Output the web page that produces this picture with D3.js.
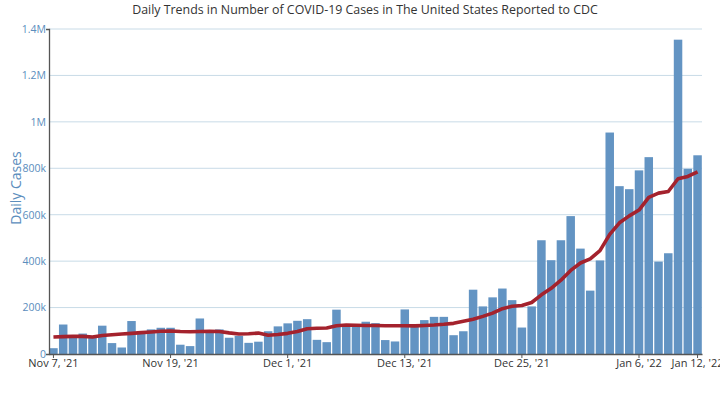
<!DOCTYPE html>
<html>
<head>
<meta charset="utf-8">
<script src="https://cdn.jsdelivr.net/npm/d3@7"></script>
<style>
  body { margin: 0; background: #fff; font-family: 'Open Sans', sans-serif; }
  svg text { font-family: 'Open Sans', sans-serif; }
</style>
</head>
<body>
<svg id="chart" width="720" height="395"></svg>
<script>
// Data
const startDay = new Date(2021, 10, 7);
const days = d3.timeDay.range(startDay, new Date(2022, 0, 13));

const dailyCases = [
  25000, 127000, 80000, 88000, 76000, 122000, 47000, 28000, 142000, 97000,
  106000, 113000, 113000, 40000, 34000, 153000, 97000, 106000, 70000, 78000,
  48000, 53000, 98000, 119000, 132000, 143000, 150000, 61000, 51000, 191000,
  124000, 124000, 139000, 133000, 60000, 54000, 192000, 120000, 146000, 160000,
  160000, 81000, 98000, 277000, 205000, 244000, 282000, 232000, 114000, 205000,
  490000, 404000, 490000, 594000, 454000, 273000, 403000, 954000, 723000, 710000,
  791000, 848000, 398000, 434000, 1354000, 798000, 856000
];

const sevenDayAvg = [
  73000, 75000, 76000, 76000, 73000, 80000, 83000, 86000, 89000, 92000,
  95000, 98000, 99000, 97000, 96000, 97000, 98000, 97000, 91000, 86000,
  87000, 90000, 81000, 84000, 89000, 97000, 109000, 111000, 112000, 122000,
  125000, 124000, 123000, 123000, 122000, 122000, 122000, 121000, 123000, 125000,
  128000, 132000, 141000, 150000, 162000, 176000, 195000, 206000, 209000, 222000,
  255000, 283000, 318000, 360000, 392000, 410000, 445000, 515000, 565000, 595000,
  620000, 675000, 693000, 700000, 755000, 765000, 785000
];

const xTickDays = [0, 12, 24, 36, 48, 60, 66];
const xTickLabels = ["Nov 7, '21", "Nov 19, '21", "Dec 1, '21", "Dec 13, '21", "Dec 25, '21", "Jan 6, '22", "Jan 12, '22"];
const yTicks = [0, 200000, 400000, 600000, 800000, 1000000, 1200000, 1400000];
const yTickLabels = ["0", "200k", "400k", "600k", "800k", "1M", "1.2M", "1.4M"];

// Layout
const margin = {top: 29, right: 18, bottom: 41, left: 49};
const width = 720;
const height = 395;
const fontFamily = "'Open Sans', sans-serif";

const svg = d3.select("#chart");

const x = d3.scaleBand()
  .domain(d3.range(days.length))
  .range([margin.left, width - margin.right])
  .paddingInner(0.13)
  .paddingOuter(0.02);

const y = d3.scaleLinear()
  .domain([0, 1400000])
  .range([height - margin.bottom, margin.top]);

// Gridlines
svg.append("g")
  .selectAll("line")
  .data(yTicks.slice(1))
  .enter()
  .append("line")
  .attr("x1", margin.left)
  .attr("x2", width - margin.right)
  .attr("y1", d => y(d))
  .attr("y2", d => y(d))
  .attr("stroke", "#c8dbe7")
  .attr("stroke-width", 1);

// Bars
svg.append("g")
  .selectAll("rect")
  .data(dailyCases)
  .enter()
  .append("rect")
  .attr("x", (d, i) => x(i))
  .attr("y", d => y(d))
  .attr("width", x.bandwidth())
  .attr("height", d => y(0) - y(d))
  .attr("fill", "#6394c3");

// 7-day average line
const line = d3.line()
  .x((d, i) => x(i) + x.bandwidth() / 2)
  .y(d => y(d));

svg.append("path")
  .datum(sevenDayAvg)
  .attr("d", line)
  .attr("fill", "none")
  .attr("stroke", "#a4222d")
  .attr("stroke-width", 3.6)
  .attr("stroke-linejoin", "round");

// X axis
const xAxis = d3.axisBottom(x)
  .tickValues(xTickDays)
  .tickFormat((d, i) => xTickLabels[i])
  .tickSizeInner(4)
  .tickSizeOuter(0)
  .tickPadding(1);

const gx = svg.append("g")
  .attr("transform", `translate(0,${y(0)})`)
  .call(xAxis)
  .attr("font-family", fontFamily);
gx.select(".domain").attr("stroke", "#555").attr("stroke-width", 1.3);
gx.selectAll(".tick line").attr("stroke", "#555");
gx.selectAll(".tick text")
  .attr("fill", "#333")
  .attr("font-size", "11px")
  .attr("font-family", fontFamily);

// Y axis
const yAxis = d3.axisLeft(y)
  .tickValues(yTicks)
  .tickFormat((d, i) => yTickLabels[i])
  .tickSizeInner(0)
  .tickSizeOuter(3)
  .tickPadding(3);

const gy = svg.append("g")
  .attr("transform", `translate(${margin.left},0)`)
  .call(yAxis)
  .attr("font-family", fontFamily);
gy.select(".domain").attr("stroke", "#555").attr("stroke-width", 1.3);
gy.selectAll(".tick text")
  .attr("fill", "#5b8dbd")
  .attr("font-size", "10.5px")
  .attr("font-family", fontFamily);

// Y axis title
svg.append("text")
  .attr("transform", "translate(21,188) rotate(-90)")
  .attr("text-anchor", "middle")
  .attr("fill", "#5b8dbd")
  .attr("font-size", "14px")
  .attr("font-family", fontFamily)
  .text("Daily Cases");

// Title
svg.append("text")
  .attr("x", 365)
  .attr("y", 14)
  .attr("text-anchor", "middle")
  .attr("fill", "#333")
  .attr("font-size", "12.4px")
  .attr("font-family", fontFamily)
  .text("Daily Trends in Number of COVID-19 Cases in The United States Reported to CDC");
</script>
</body>
</html>
